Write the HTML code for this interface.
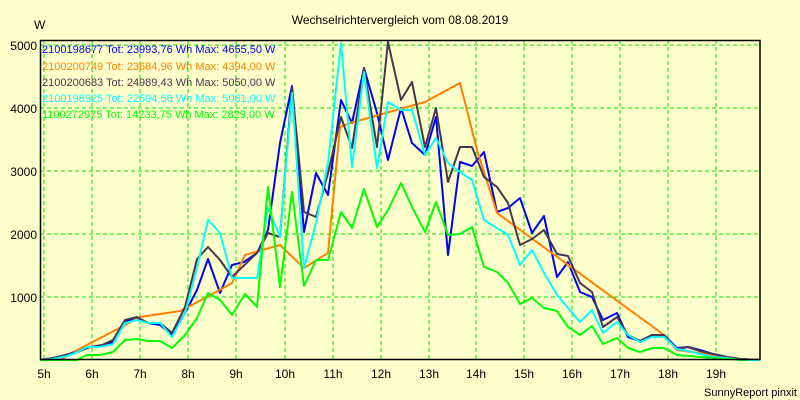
<!DOCTYPE html>
<html><head><meta charset="utf-8"><style>
body{margin:0;background:#ffffcc;}
svg{display:block;font-family:"Liberation Sans",sans-serif;}
</style></head><body>
<svg width="800" height="400" viewBox="0 0 800 400">
<rect width="800" height="400" fill="#ffffcc"/>
<text x="400" y="24" font-size="12" text-anchor="middle" fill="#000">Wechselrichtervergleich vom 08.08.2019</text>
<text x="34" y="29" font-size="12" fill="#000">W</text>
<g stroke="#00e000" stroke-width="1" stroke-dasharray="4,3">
<line x1="40" y1="45" x2="760" y2="45"/><line x1="40" y1="108" x2="760" y2="108"/><line x1="40" y1="171" x2="760" y2="171"/><line x1="40" y1="234" x2="760" y2="234"/><line x1="40" y1="297" x2="760" y2="297"/>
<line x1="44" y1="40" x2="44" y2="359"/><line x1="92" y1="40" x2="92" y2="359"/><line x1="140" y1="40" x2="140" y2="359"/><line x1="188" y1="40" x2="188" y2="359"/><line x1="236" y1="40" x2="236" y2="359"/><line x1="285" y1="40" x2="285" y2="359"/><line x1="333" y1="40" x2="333" y2="359"/><line x1="381" y1="40" x2="381" y2="359"/><line x1="429" y1="40" x2="429" y2="359"/><line x1="476" y1="40" x2="476" y2="359"/><line x1="524" y1="40" x2="524" y2="359"/><line x1="572" y1="40" x2="572" y2="359"/><line x1="620" y1="40" x2="620" y2="359"/><line x1="668" y1="40" x2="668" y2="359"/><line x1="716" y1="40" x2="716" y2="359"/>
</g>
<g font-size="12" fill="#000" text-anchor="end">
<text x="37" y="50">5000</text><text x="37" y="113">4000</text><text x="37" y="176">3000</text><text x="37" y="239">2000</text><text x="37" y="302">1000</text>
</g>
<g font-size="12" fill="#000" text-anchor="middle">
<text x="44" y="378">5h</text><text x="92" y="378">6h</text><text x="140" y="378">7h</text><text x="188" y="378">8h</text><text x="236" y="378">9h</text><text x="285" y="378">10h</text><text x="333" y="378">11h</text><text x="381" y="378">12h</text><text x="429" y="378">13h</text><text x="476" y="378">14h</text><text x="524" y="378">15h</text><text x="572" y="378">16h</text><text x="620" y="378">17h</text><text x="668" y="378">18h</text><text x="716" y="378">19h</text>
</g>
<text x="797" y="396" font-size="11" text-anchor="end" fill="#000">SunnyReport pinxit</text>
<g font-size="11">
<text x="42" y="53" fill="#0000ff">2100198677 Tot: 23993,76 Wh Max: 4655,50 W</text>
<text x="42" y="70" fill="#ff8000">2100200749 Tot: 23684,96 Wh Max: 4394,00 W</text>
<text x="42" y="86" fill="#4a3550">2100200683 Tot: 24989,43 Wh Max: 5050,00 W</text>
<text x="42" y="102" fill="#00ffff">2100198925 Tot: 22594,56 Wh Max: 5061,00 W</text>
<text x="42" y="118" fill="#00ff00">1100272975 Tot: 14233,75 Wh Max: 2829,00 W</text>
</g>
<g fill="none" stroke-width="2" stroke-linejoin="round">
<polyline stroke="#0000ff" points="40,360 53,358 67,355 78,350 90,347 102,346 113,342 125,322 137,318 148,323 160,325 172,335 185,313 197,290 208,259 220,293 232,265 244,262 257,253 268,230 280,143 292,86 304,232 316,173 328,195 341,100 352,123 364,68 377,113 388,160 401,108 412,143 425,155 436,117 448,255 460,162 472,166 484,152 497,212 508,208 520,198 532,233 544,216 557,277 568,262 580,292 592,297 603,320 617,313 628,337 640,341 652,335 664,335 677,348 688,347 700,350 713,354 727,357 740,359 760,360"/>
<polyline stroke="#ff8000" points="60,360 83,347 110,333 140,317 180,311 207,297 232,283 245,255 280,245 304,268 328,253 340,127 350,123 425,102 460,83 477,150 497,213 664,335 677,350 713,355 740,359 760,360"/>
<polyline stroke="#4a3550" points="40,360 53,358 65,355 78,352 90,347 102,345 113,340 125,320 137,317 148,323 160,323 172,333 185,307 197,259 208,247 220,260 232,277 257,253 268,233 280,237 292,87 304,212 316,217 328,173 341,117 352,148 364,68 377,147 388,42 401,100 412,82 425,147 436,108 448,182 460,147 472,147 484,177 497,187 508,203 520,245 532,239 544,230 557,254 568,256 580,283 592,292 603,327 617,317 628,335 640,341 652,335 664,335 677,349 688,347 700,351 713,354 727,357 740,359 760,360"/>
<polyline stroke="#00ffff" points="40,360 53,359 67,356 78,352 87,347 100,347 113,344 125,323 137,320 148,323 160,323 172,337 185,313 197,268 208,220 220,233 232,278 257,278 268,208 280,237 292,93 304,268 316,223 328,163 341,43 352,167 364,72 377,168 388,102 401,110 412,110 425,155 436,138 448,163 460,172 472,180 484,220 497,228 508,235 520,265 532,250 544,273 557,295 568,308 580,322 592,310 603,333 617,322 628,335 640,342 652,337 664,337 677,349 688,351 700,354 713,357 727,358 740,360 760,360"/>
<polyline stroke="#00ff00" points="40,360 77,360 87,355 100,355 113,352 125,340 137,339 148,341 160,341 172,348 185,335 197,318 208,293 220,300 232,315 245,294 257,307 268,187 280,287 292,192 304,286 316,260 328,260 341,212 352,228 364,189 377,227 388,210 401,183 412,207 425,232 436,202 448,235 460,234 472,227 484,267 497,272 508,283 520,304 532,298 544,308 557,311 568,327 580,335 592,326 603,344 617,338 628,348 640,352 652,348 664,348 677,355 700,357 727,359 747,360"/>
</g>
<rect x="40.5" y="40.5" width="719.5" height="319" fill="none" stroke="#000" stroke-width="1.5"/>
</svg>
</body></html>
